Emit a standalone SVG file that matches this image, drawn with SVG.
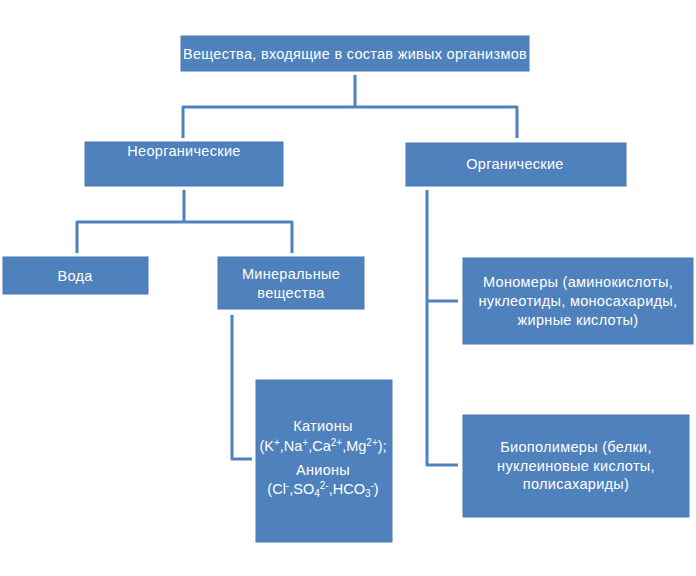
<svg xmlns="http://www.w3.org/2000/svg" width="696" height="576" viewBox="0 0 696 576">
<style>
.box{fill:#4F81BD;stroke:#4a7ab5;stroke-width:1}
.t{fill:#ffffff;font-family:"Liberation Sans","DejaVu Sans",sans-serif;font-size:14.5px;letter-spacing:0.3px;text-anchor:middle}
.c{fill:none;stroke:#4F81BD;stroke-width:3;stroke-linejoin:round}
.s{font-size:10px;letter-spacing:0}
</style>
<rect width="696" height="576" fill="#ffffff"/>
<g id="connectors">
<path class="c" d="M355,75 V107 M183,138 V107 H517 V138"/>
<path class="c" d="M184,190 V222 M77,253 V222 H292 V253"/>
<path class="c" d="M232,315 V459 H252"/>
<path class="c" d="M427,190 V465 H458 M427,301 H458"/>
</g>
<g id="root">
<rect class="box" x="181" y="36" width="348" height="35"/>
<text class="t" x="355" y="59" textLength="344" lengthAdjust="spacingAndGlyphs">Вещества, входящие  в состав живых организмов</text>
</g>
<g id="inorganic">
<rect class="box" x="85" y="142" width="198" height="44"/>
<text class="t" x="184" y="156">Неорганические</text>
</g>
<g id="organic">
<rect class="box" x="406" y="143" width="220" height="43"/>
<text class="t" x="515" y="169">Органические</text>
</g>
<g id="water">
<rect class="box" x="3" y="257" width="145" height="37"/>
<text class="t" x="75" y="281">Вода</text>
</g>
<g id="minerals">
<rect class="box" x="218" y="257" width="146" height="52"/>
<text class="t" x="291" y="279">Минеральные</text>
<text class="t" x="291" y="298">вещества</text>
</g>
<g id="ions">
<rect class="box" x="256" y="380" width="136" height="162"/>
<text class="t" x="323" y="431">Катионы</text>
<text class="t" x="323" y="451" style="letter-spacing:0">(K<tspan class="s" dy="-5">+</tspan><tspan dy="5">,Na</tspan><tspan class="s" dy="-5">+</tspan><tspan dy="5">,Ca</tspan><tspan class="s" dy="-5">2+</tspan><tspan dy="5">,Mg</tspan><tspan class="s" dy="-5">2+</tspan><tspan dy="5">);</tspan></text>
<text class="t" x="323" y="475">Анионы</text>
<text class="t" x="323" y="494" style="letter-spacing:0">(Cl<tspan class="s" dy="-5">-</tspan><tspan dy="5">,SO</tspan><tspan class="s" dy="3">4</tspan><tspan class="s" dy="-8">2-</tspan><tspan dy="5">,HCO</tspan><tspan class="s" dy="3">3</tspan><tspan class="s" dy="-8">-</tspan><tspan dy="5">)</tspan></text>
</g>
<g id="monomers">
<rect class="box" x="463" y="258" width="230" height="86"/>
<text class="t" x="578" y="287">Мономеры (аминокислоты,</text>
<text class="t" x="578" y="306">нуклеотиды,  моносахариды,</text>
<text class="t" x="578" y="325">жирные  кислоты)</text>
</g>
<g id="biopolymers">
<rect class="box" x="463" y="415" width="226" height="102"/>
<text class="t" x="576" y="452">Биополимеры (белки,</text>
<text class="t" x="576" y="471">нуклеиновые  кислоты,</text>
<text class="t" x="576" y="489">полисахариды)</text>
</g>
</svg>
